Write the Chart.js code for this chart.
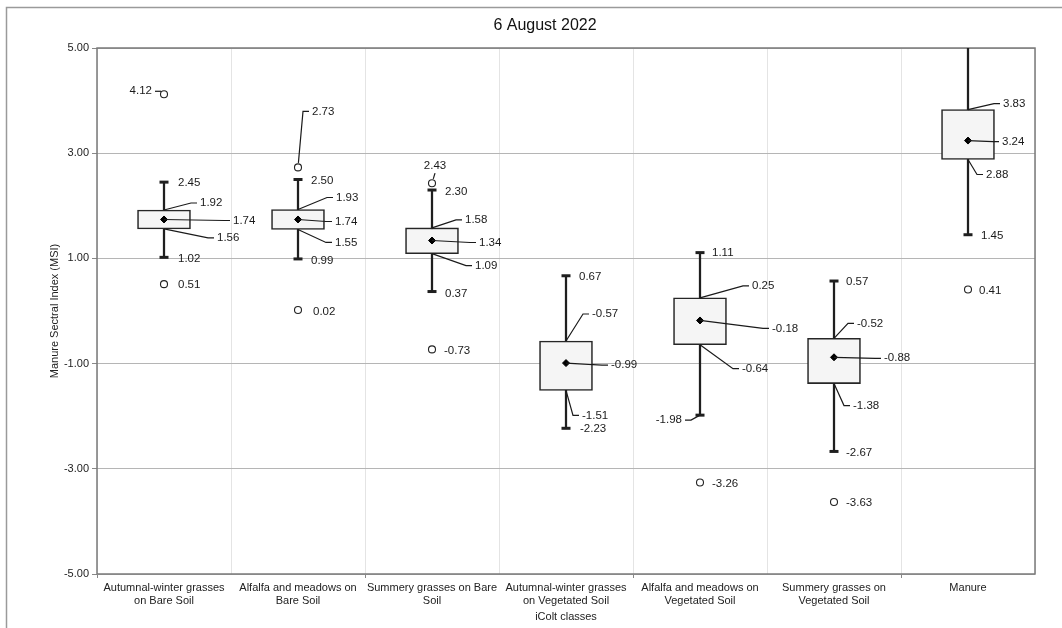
<!DOCTYPE html>
<html>
<head>
<meta charset="utf-8">
<script src="https://cdn.jsdelivr.net/npm/chart.js@4.4.0/dist/chart.umd.min.js"></script>
<style>
  html, body { margin: 0; padding: 0; background: #fff; }
  canvas { display: block; }
</style>
</head>
<body>
<canvas id="msi" width="1062" height="628"></canvas>
<script>
// classes on the x axis (two-line labels)
const classes = [
  ['Autumnal-winter grasses', 'on Bare Soil'],
  ['Alfalfa and meadows on', 'Bare Soil'],
  ['Summery grasses on Bare', 'Soil'],
  ['Autumnal-winter grasses', 'on Vegetated Soil'],
  ['Alfalfa and meadows on', 'Vegetated Soil'],
  ['Summery grasses on', 'Vegetated Soil'],
  ['Manure']
];
const classNames = classes.map(c => c.join(' '));

// box plot statistics per class
const whiskerHigh = [2.45, 2.50, 2.30, 0.67, 1.11, 0.57, 5.40];
const q3 = [1.92, 1.93, 1.58, -0.57, 0.25, -0.52, 3.83];
const means = [1.74, 1.74, 1.34, -0.99, -0.18, -0.88, 3.24];
const q1 = [1.56, 1.55, 1.09, -1.51, -0.64, -1.38, 2.88];
const whiskerLow = [1.02, 0.99, 0.37, -2.23, -1.98, -2.67, 1.45];
const outliers = [[4.12, 0.51], [2.73, 0.02], [2.43, -0.73], [], [-3.26], [-3.63], [0.41]];

const yTicks = [-5, -3, -1, 1, 3, 5];

// where each value label sits relative to its mark: [dx, dy, align, leader line]
const labelLayout = [
  { out0: [-12, -3, 'right', true], hi: [14, 1, 'left', false], q3: [36, -7, 'left', true],
    mean: [69, 1, 'left', true], q1: [53, 9, 'left', true], lo: [14, 1, 'left', false], out1: [14, 1, 'left', false] },
  { out0: [14, -56, 'left', true], hi: [13, 1, 'left', false], q3: [38, -12, 'left', true],
    mean: [37, 2, 'left', true], q1: [37, 13, 'left', true], lo: [13, 2, 'left', false], out1: [15, 2, 'left', false] },
  { out0: [3, -17, 'center', true], hi: [13, 2, 'left', false], q3: [33, -8, 'left', true],
    mean: [47, 2, 'left', true], q1: [43, 12, 'left', true], lo: [13, 2, 'left', false], out1: [12, 1, 'left', false] },
  { hi: [13, 1, 'left', false], q3: [26, -27, 'left', true], mean: [45, 2, 'left', true],
    q1: [16, 25, 'left', true], lo: [14, 1, 'left', false] },
  { hi: [12, 0, 'left', false], q3: [52, -12, 'left', true], mean: [72, 8, 'left', true],
    q1: [42, 24, 'left', true], lo: [-18, 5, 'right', true], out0: [12, 1, 'left', false] },
  { hi: [12, 1, 'left', false], q3: [23, -15, 'left', true], mean: [50, 1, 'left', true],
    q1: [19, 22, 'left', true], lo: [12, 1, 'left', false], out0: [12, 1, 'left', false] },
  { q3: [35, -6, 'left', true], mean: [34, 1, 'left', true], q1: [18, 15, 'left', true],
    lo: [13, 1, 'left', false], out0: [11, 1, 'left', false] }
];

const FONT = '"Liberation Sans", Arial, Helvetica, sans-serif';
Chart.defaults.font.family = FONT;
Chart.defaults.font.size = 11;
Chart.defaults.color = '#222';

// outer frame, title and plot border
const framePlugin = {
  id: 'frame',
  beforeDraw(chart) {
    const { ctx } = chart;
    ctx.save();
    ctx.fillStyle = '#fff';
    ctx.fillRect(0, 0, chart.width, chart.height);
    ctx.strokeStyle = '#9a9a9a';
    ctx.lineWidth = 1.5;
    ctx.strokeRect(6.5, 7.5, 1200, 800);
    ctx.fillStyle = '#111';
    ctx.font = '16px ' + FONT;
    ctx.textAlign = 'center';
    ctx.textBaseline = 'middle';
    ctx.fillText('6 August 2022', 545, 26);
    ctx.restore();
  },
  beforeDatasetsDraw(chart) {
    const { ctx, chartArea: a } = chart;
    ctx.save();
    ctx.strokeStyle = '#7a7a7a';
    ctx.lineWidth = 1.5;
    ctx.strokeRect(a.left, a.top, a.right - a.left, a.bottom - a.top);
    ctx.restore();
  }
};

// value labels with leader lines
const labelPlugin = {
  id: 'boxLabels',
  afterDatasetsDraw(chart) {
    const { ctx, scales: { x, y } } = chart;
    ctx.save();
    ctx.font = '11.5px ' + FONT;
    ctx.fillStyle = '#1a1a1a';
    ctx.strokeStyle = '#1a1a1a';
    ctx.lineWidth = 1.2;
    ctx.textBaseline = 'middle';
    labelLayout.forEach((spec, i) => {
      const values = { hi: whiskerHigh[i], q3: q3[i], mean: means[i], q1: q1[i], lo: whiskerLow[i] };
      outliers[i].forEach((v, k) => { values['out' + k] = v; });
      const ax = x.getPixelForValue(i);
      Object.keys(spec).forEach(key => {
        const [dx, dy, align, leader] = spec[key];
        const v = values[key];
        const ay = y.getPixelForValue(v);
        const tx = ax + dx;
        const ty = ay + dy;
        if (leader) {
          let ex = tx - 9, ey = ty, endX = tx - 3;
          if (align === 'center') { ex = tx; ey = ty + 7; endX = null; }
          if (align === 'right') { ex = tx + 9; endX = tx + 3; }
          let sx = ax, sy = ay;
          if (key.startsWith('out')) {
            const d = Math.hypot(ex - ax, ey - ay);
            if (d > 4.5) { sx = ax + (ex - ax) / d * 4.5; sy = ay + (ey - ay) / d * 4.5; }
            else { sx = ex; sy = ey; }
          }
          ctx.beginPath();
          ctx.moveTo(sx, sy);
          ctx.lineTo(ex, ey);
          if (endX !== null) ctx.lineTo(endX, ey);
          ctx.stroke();
        }
        ctx.textAlign = align;
        ctx.fillText(v.toFixed(2), tx, ty);
      });
    });
    ctx.restore();
  }
};

const pointsAt = arr => arr.map((v, i) => ({ x: classNames[i], y: v }));

new Chart(document.getElementById('msi'), {
  type: 'bar',
  data: {
    labels: classNames,
    datasets: [
      {
        label: 'whisker',
        data: whiskerLow.map((v, i) => [v, whiskerHigh[i]]),
        backgroundColor: '#1f1f1f',
        barThickness: 1.6,
        grouped: false,
        order: 5
      },
      {
        label: 'box',
        data: q1.map((v, i) => [v, q3[i]]),
        backgroundColor: '#f5f5f5',
        borderColor: '#262626',
        borderWidth: 1.6,
        borderSkipped: false,
        barThickness: 53,
        grouped: false,
        order: 4
      },
      {
        type: 'line',
        label: 'caps',
        data: [...pointsAt(whiskerHigh), ...pointsAt(whiskerLow)],
        showLine: false,
        pointStyle: 'line',
        pointRadius: 4.5,
        pointBorderWidth: 3,
        pointBorderColor: '#1f1f1f',
        clip: 0,
        order: 3
      },
      {
        type: 'line',
        label: 'outliers',
        data: outliers.flatMap((vals, i) => vals.map(v => ({ x: classNames[i], y: v }))),
        showLine: false,
        pointStyle: 'circle',
        pointRadius: 3.5,
        pointBackgroundColor: '#fff',
        pointBorderColor: '#222',
        pointBorderWidth: 1.1,
        order: 2
      },
      {
        type: 'line',
        label: 'mean',
        data: means,
        showLine: false,
        pointStyle: 'rectRot',
        pointRadius: 3.5,
        pointBackgroundColor: '#000',
        pointBorderColor: '#000',
        pointBorderWidth: 1,
        order: 1
      }
    ]
  },
  options: {
    responsive: false,
    animation: false,
    events: [],
    layout: { padding: { top: 48, right: 27, left: 0, bottom: 0 } },
    plugins: {
      legend: { display: false },
      tooltip: { enabled: false }
    },
    scales: {
      x: {
        offset: true,
        grid: {
          offset: true,
          color: '#e4e4e4',
          lineWidth: 1,
          tickLength: 4,
          tickColor: c => (c.index % 2 === 0 ? '#888' : 'rgba(0,0,0,0)')
        },
        border: { display: false },
        ticks: {
          autoSkip: false,
          maxRotation: 0,
          padding: 3,
          font: { size: 11 },
          color: '#222',
          callback: (v, i) => classes[i]
        },
        title: { display: true, text: 'iColt classes', font: { size: 11 }, color: '#222', padding: { top: 0, bottom: 4 } },
        afterFit: s => { s.height = 54; }
      },
      y: {
        min: -5,
        max: 5,
        afterBuildTicks: s => { s.ticks = yTicks.map(v => ({ value: v })); },
        grid: { color: '#b5b5b5', lineWidth: 1, tickLength: 5, tickColor: '#888' },
        border: { display: false },
        ticks: { padding: 3, font: { size: 11 }, color: '#222', callback: v => v.toFixed(2) },
        title: { display: true, text: 'Manure Sectral Index (MSI)', font: { size: 11 }, color: '#222', padding: { top: 48, bottom: 0 } },
        afterFit: s => { s.width = 97; }
      }
    }
  },
  plugins: [framePlugin, labelPlugin]
});
</script>
</body>
</html>
